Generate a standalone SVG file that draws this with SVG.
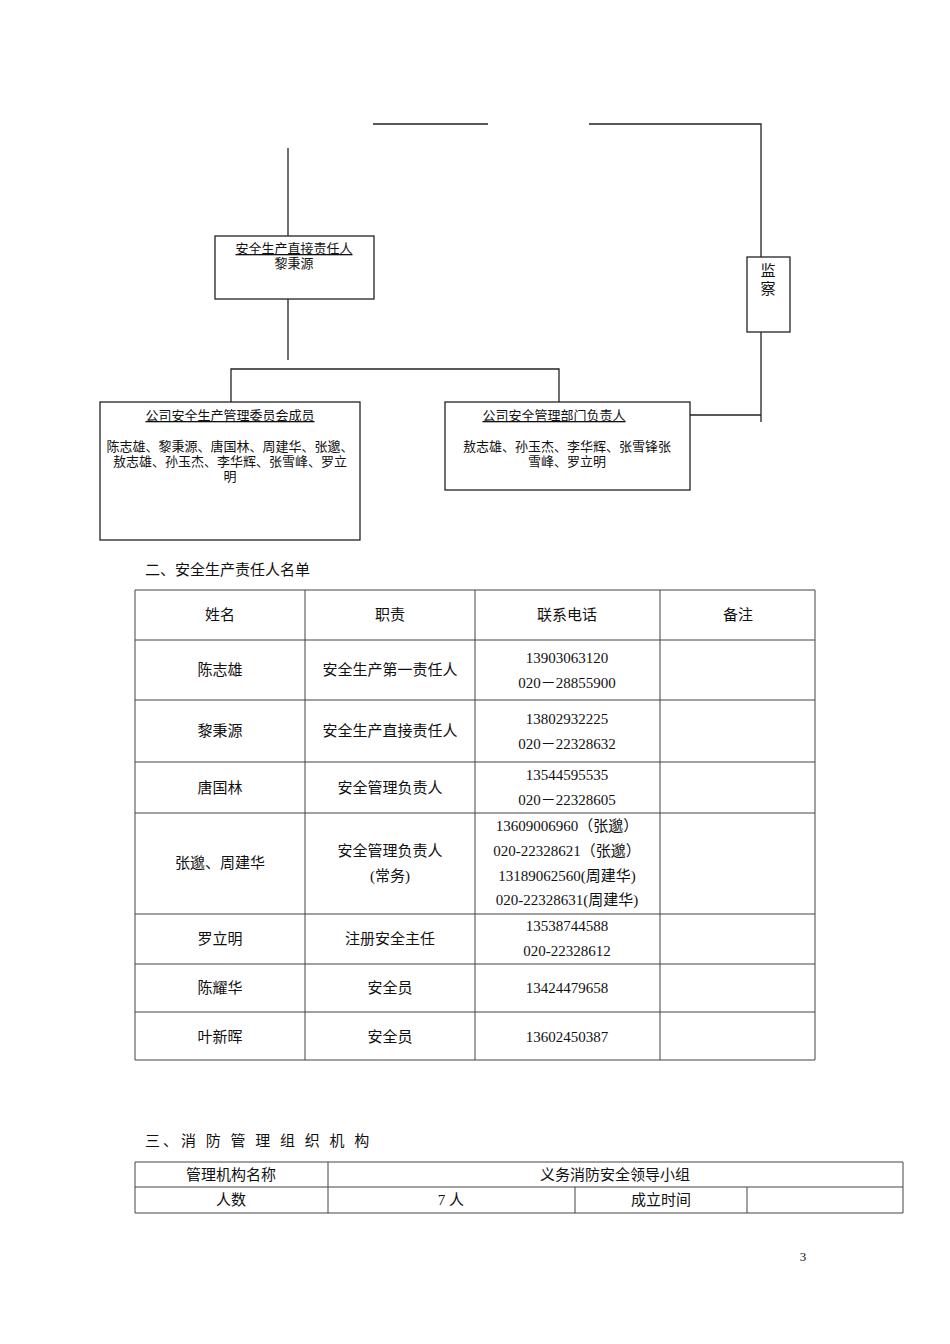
<svg xmlns="http://www.w3.org/2000/svg" width="950" height="1344" viewBox="0 0 950 1344">
<style>
text{font-family:"Liberation Serif","Noto Sans CJK SC",serif;font-size:15px;fill:#111;text-anchor:middle}
.s{font-size:13px}
.b{fill:#fff;stroke:#222;stroke-width:1.3}
.l{stroke:#222;stroke-width:1.3;fill:none}
.t{stroke:#444;stroke-width:1;fill:none}
</style>
<rect width="950" height="1344" fill="#fff"/>
<g id="connectors">
<path class="l" d="M373 124H488M589 124H761V257M288 148V236M288 299V360M231 402V369H559V402M761 322V422M690 415H761"/>
</g>
<g id="n1"><rect class="b" x="215" y="236" width="159" height="63"/>
<text class="s" x="294" y="253" text-decoration="underline">安全生产直接责任人</text><text class="s" x="294" y="268">黎秉源</text></g>
<g id="n2"><rect class="b" x="747" y="257" width="43" height="75"/>
<text x="768" y="276">监</text><text x="768" y="294">察</text></g>
<g id="n3"><rect class="b" x="100" y="402" width="260" height="138"/>
<text class="s" x="230" y="420" text-decoration="underline">公司安全生产管理委员会成员</text>
<text class="s" x="230" y="451">陈志雄、黎秉源、唐国林、周建华、张邈、</text>
<text class="s" x="230" y="466">敖志雄、孙玉杰、李华辉、张雪峰、罗立</text>
<text class="s" x="230" y="481">明</text></g>
<g id="n4"><rect class="b" x="445" y="402" width="245" height="88"/>
<text class="s" x="554" y="420" text-decoration="underline">公司安全管理部门负责人 </text>
<text class="s" x="567" y="451">敖志雄、孙玉杰、李华辉、张雪锋张</text>
<text class="s" x="567" y="466">雪峰、罗立明</text></g>
<text x="145" y="575" style="text-anchor:start">二、安全生产责任人名单</text>
<g id="table1">
<path class="t" d="M135 590H815V1060H135ZM305 590V1060M475 590V1060M660 590V1060M135 640H815M135 700H815M135 762H815M135 813H815M135 914H815M135 964H815M135 1012H815"/>
<text x="220" y="620">姓名</text><text x="390" y="620">职责</text><text x="567" y="620">联系电话</text><text x="738" y="620">备注</text>
<text x="220" y="675">陈志雄</text><text x="390" y="675">安全生产第一责任人</text><text x="567" y="663">13903063120</text><text x="567" y="688">020－28855900</text>
<text x="220" y="736">黎秉源</text><text x="390" y="736">安全生产直接责任人</text><text x="567" y="724">13802932225</text><text x="567" y="749">020－22328632</text>
<text x="220" y="793">唐国林</text><text x="390" y="793">安全管理负责人</text><text x="567" y="780">13544595535</text><text x="567" y="805">020－22328605</text>
<text x="220" y="868">张邈、周建华</text><text x="390" y="856">安全管理负责人</text><text x="390" y="881">(常务)</text>
<text x="567" y="831">13609006960（张邈）</text><text x="567" y="856">020-22328621（张邈）</text><text x="567" y="881">13189062560(周建华)</text><text x="567" y="905">020-22328631(周建华)</text>
<text x="220" y="944">罗立明</text><text x="390" y="944">注册安全主任</text><text x="567" y="931">13538744588</text><text x="567" y="956">020-22328612</text>
<text x="220" y="993">陈耀华</text><text x="390" y="993">安全员</text><text x="567" y="993">13424479658</text>
<text x="220" y="1042">叶新晖</text><text x="390" y="1042">安全员</text><text x="567" y="1042">13602450387</text>
</g>
<text x="145" y="1146" style="text-anchor:start;letter-spacing:3px">三、消 防 管 理 组 织 机 构</text>
<g id="table2">
<path class="t" d="M135 1162H903V1213H135ZM135 1187H903M328 1162V1213M575 1187V1213M747 1187V1213"/>
<text x="231" y="1180">管理机构名称</text><text x="615" y="1180">义务消防安全领导小组</text>
<text x="231" y="1205">人数</text><text x="451" y="1205">7 人</text><text x="661" y="1205">成立时间</text>
</g>
<text class="s" x="803" y="1261">3</text>
</svg>
